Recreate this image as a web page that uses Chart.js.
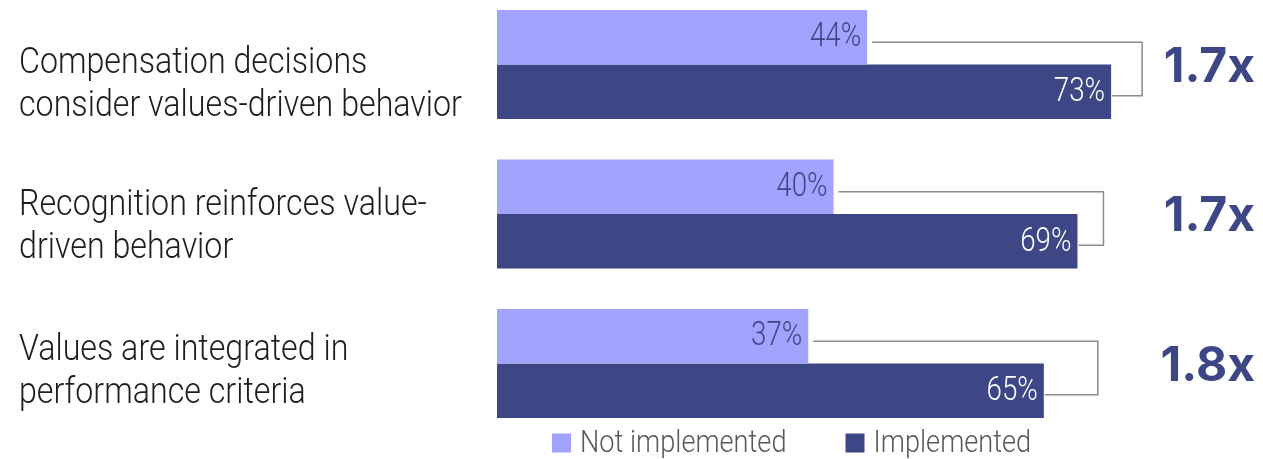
<!DOCTYPE html>
<html>
<head>
<meta charset="utf-8">
<script src="https://cdn.jsdelivr.net/npm/chart.js@4.4.1/dist/chart.umd.min.js"></script>
<style>
    html, body { margin: 0; padding: 0; background: #fff; }
    #wrap { width: 1263px; height: 459px; }
</style>
</head>
<body>
<div id="wrap"><canvas id="valuesChart" width="1263" height="459"></canvas></div>
<script>
// Values-driven practices, implemented vs not implemented

const categories = [
    ['Compensation decisions', 'consider values-driven behavior'],
    ['Recognition reinforces value-', 'driven behavior'],
    ['Values are integrated in', 'performance criteria']
];
const seriesNames = ['Not implemented', 'Implemented'];
const notImplemented = [44, 40, 37];
const implemented = [73, 69, 65];

const lightColor = '#a1a3ff';
const darkColor = '#3d4785';
const squeeze = 0.87;               // Roboto Light squeezed to a condensed look
const bracketGap = [31, 26, 54];    // px between the longer bar and its bracket
const labelShift = [5, -2, -7];     // nudges for the category label blocks

function narrowText(ctx, text, x, y, align, factor) {
    ctx.save();
    ctx.translate(x, y);
    ctx.scale(factor, 1);
    ctx.textAlign = align;
    ctx.fillText(text, 0, 0);
    ctx.restore();
}

const labelsPlugin = {
    id: 'labelsPlugin',
    afterDatasetsDraw(chart) {
        const ctx = chart.ctx;
        const yScale = chart.scales.y;
        const light = chart.getDatasetMeta(0).data;
        const dark = chart.getDatasetMeta(1).data;

        ctx.save();

        // category labels on the left
        ctx.font = '300 37px Roboto';
        ctx.fillStyle = '#1e1e1e';
        ctx.textBaseline = 'alphabetic';
        categories.forEach((lines, i) => {
            const cy = yScale.getPixelForValue(i) + labelShift[i];
            lines.forEach((line, j) => {
                narrowText(ctx, line, 19, cy + 3 + j * 43, 'left', squeeze);
            });
        });

        // value labels inside the bar ends
        ctx.font = '300 33px Roboto';
        ctx.textBaseline = 'middle';
        [light, dark].forEach((bars, d) => {
            const values = d === 0 ? notImplemented : implemented;
            ctx.fillStyle = d === 0 ? darkColor : '#ffffff';
            bars.forEach((bar, i) => {
                narrowText(ctx, values[i] + '%', bar.x - 6, bar.y + 1, 'right', 0.84);
            });
        });

        // brackets joining each pair
        ctx.strokeStyle = '#8c8c8c';
        ctx.lineWidth = 1.5;
        light.forEach((a, i) => {
            const b = dark[i];
            const bx = Math.max(a.x, b.x) + bracketGap[i];
            ctx.beginPath();
            ctx.moveTo(a.x + 5, a.y + 5);
            ctx.lineTo(bx, a.y + 5);
            ctx.lineTo(bx, b.y + 4);
            ctx.lineTo(b.x + 1, b.y + 4);
            ctx.stroke();
        });

        // ratio of implemented to not implemented
        ctx.font = '700 48px Inter';
        ctx.fillStyle = darkColor;
        ctx.textAlign = 'right';
        ctx.textBaseline = 'middle';
        implemented.forEach((v, i) => {
            const ratio = (v / notImplemented[i]).toFixed(1) + 'x';
            ctx.fillText(ratio, chart.width - 8, yScale.getPixelForValue(i) + 3);
        });

        // legend under the bars
        ctx.font = '300 32px Roboto';
        ctx.textBaseline = 'middle';
        let lx = 552;
        const ly = 443;
        [lightColor, darkColor].forEach((c, k) => {
            ctx.fillStyle = c;
            ctx.fillRect(lx, ly - 9.5, 19, 19);
            ctx.fillStyle = '#595959';
            narrowText(ctx, seriesNames[k], lx + 28, ly + 1, 'left', 0.85);
            lx += 28 + ctx.measureText(seriesNames[k]).width * 0.85 + 59;
        });

        ctx.restore();
    }
};

const ctx = document.getElementById('valuesChart').getContext('2d');
const valuesChart = new Chart(ctx, {
    type: 'bar',
    data: {
        labels: categories,
        datasets: [{
            label: seriesNames[0],
            data: notImplemented,
            backgroundColor: lightColor,
            clip: false
        }, {
            label: seriesNames[1],
            data: implemented,
            backgroundColor: darkColor,
            clip: false
        }]
    },
    options: {
        indexAxis: 'y',
        responsive: false,
        animation: false,
        categoryPercentage: 0.73,
        barPercentage: 1,
        layout: {
            padding: { left: 497, right: 93, top: 64.5, bottom: 95.5 }
        },
        plugins: {
            legend: { display: false },
            tooltip: { enabled: false }
        },
        scales: {
            x: {
                display: false,
                min: 0,
                max: 80
            },
            y: {
                display: false,
                offset: false
            }
        }
    },
    plugins: [labelsPlugin]
});
</script>
</body>
</html>
